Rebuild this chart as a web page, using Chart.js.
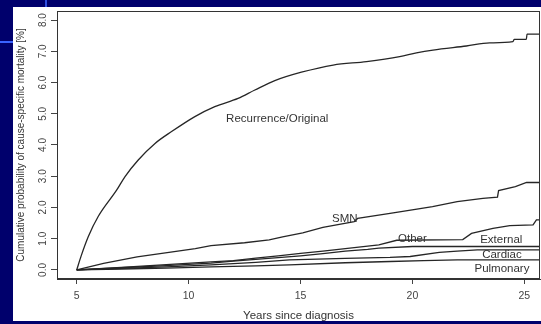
<!DOCTYPE html>
<html>
<head>
<meta charset="utf-8">
<script src="https://cdn.jsdelivr.net/npm/chart.js@4.4.1/dist/chart.umd.min.js"></script>
<style>
  html, body { margin: 0; padding: 0; width: 541px; height: 324px; overflow: hidden; background: #00006c; }
  .panel { position: absolute; left: 13px; top: 7px; width: 528px; height: 314px; background: #fff; }
  .deco-v { position: absolute; left: 45px; top: 0; width: 2px; height: 7px; background: #2f4fe0; }
  .deco-h { position: absolute; left: 0; top: 41px; width: 13px; height: 2px; background: #3a63ff; }
  #chart { position: absolute; left: 13px; top: 7px; }
</style>
</head>
<body>
<div class="panel"></div>
<div class="deco-v"></div>
<div class="deco-h"></div>
<canvas id="chart" width="528" height="317"></canvas>
<script>
const xTicks = [5, 10, 15, 20, 25];
const yTicks = [0, 1, 2, 3, 4, 5, 6, 7, 8];

const recurrenceYears = [5, 5.2, 5.52, 5.96, 6.79, 7.16, 7.75, 8.5, 9.24, 10.28, 11.17, 12.21, 12.96, 13.85, 15.04, 16.46, 17.95, 19.43, 20.18, 20.92, 22.41, 23.45, 24.49, 24.55, 25.09, 25.12, 25.8];
const recurrenceRisk = [0, 0.45, 1.07, 1.71, 2.56, 2.99, 3.52, 4.05, 4.43, 4.91, 5.23, 5.49, 5.76, 6.06, 6.33, 6.56, 6.67, 6.83, 6.95, 7.04, 7.17, 7.27, 7.31, 7.38, 7.38, 7.55, 7.55];

const smnYears = [5, 6.2, 7.7, 9.2, 10.3, 11, 12.5, 13.6, 14.2, 15.1, 16, 17.4, 17.55, 19, 20.2, 20.9, 22, 23.15, 23.8, 23.85, 24.6, 25.1, 25.8];
const smnRisk = [0, 0.21, 0.42, 0.57, 0.68, 0.78, 0.87, 0.96, 1.06, 1.19, 1.36, 1.55, 1.65, 1.81, 1.95, 2.03, 2.19, 2.29, 2.33, 2.54, 2.67, 2.8, 2.8];

const otherYears = [5, 7, 9, 11, 12, 13, 14, 15, 16, 17, 18.5, 19.3, 22.25, 22.64, 23.6, 24.35, 25.39, 25.54, 25.8];
const otherRisk = [0, 0.08, 0.17, 0.26, 0.3, 0.38, 0.45, 0.53, 0.6, 0.68, 0.8, 0.95, 0.97, 1.17, 1.33, 1.42, 1.44, 1.6, 1.6];

const externalYears = [5, 7, 9, 11, 12, 13, 15, 16, 17, 18, 18.5, 20, 25.8];
const externalRisk = [0, 0.07, 0.14, 0.22, 0.28, 0.34, 0.45, 0.52, 0.6, 0.66, 0.7, 0.75, 0.75];

const cardiacYears = [5, 7, 9, 11, 13, 14.5, 17, 19, 19.9, 21.2, 22, 22.9, 25.8];
const cardiacRisk = [0, 0.05, 0.1, 0.16, 0.24, 0.32, 0.37, 0.4, 0.43, 0.56, 0.6, 0.64, 0.64];

const pulmonaryYears = [5, 7, 9, 11, 13, 14.5, 17, 19, 20.5, 22, 25.8];
const pulmonaryRisk = [0, 0.03, 0.06, 0.1, 0.13, 0.16, 0.23, 0.27, 0.3, 0.32, 0.32];

const curveNames = ['Recurrence/Original', 'SMN', 'Other', 'External', 'Cardiac', 'Pulmonary'];
const labelYears = [13.96, 16.98, 20.0, 23.97, 24.0, 24.0];
const labelRisk = [4.85, 1.65, 1.01, 0.96, 0.48, 0.02];

const FONT = '"Liberation Sans", Arial, Helvetica, sans-serif';
const series = [
  [recurrenceYears, recurrenceRisk],
  [smnYears, smnRisk],
  [otherYears, otherRisk],
  [externalYears, externalRisk],
  [cardiacYears, cardiacRisk],
  [pulmonaryYears, pulmonaryRisk]
];

// box round the plot, rotated y tick labels (R style) and the curve names
const annotate = {
  id: 'annotate',
  afterDraw(chart) {
    const { ctx, chartArea: a, scales: { x, y } } = chart;
    ctx.save();
    ctx.strokeStyle = '#333';
    ctx.lineWidth = 1;
    ctx.strokeRect(a.left + 0.5, a.top + 0.5, a.right - a.left - 1, a.bottom - a.top - 1);

    ctx.fillStyle = '#444';
    ctx.font = '10px ' + FONT;
    ctx.textAlign = 'center';
    ctx.textBaseline = 'middle';
    yTicks.forEach(v => {
      ctx.save();
      ctx.translate(y.left + 30, y.getPixelForValue(v));
      ctx.rotate(-Math.PI / 2);
      ctx.fillText(v.toFixed(1), 0, 0);
      ctx.restore();
    });

    ctx.fillStyle = '#333';
    ctx.font = '11.5px ' + FONT;
    curveNames.forEach((t, i) => {
      ctx.fillText(t, x.getPixelForValue(labelYears[i]), y.getPixelForValue(labelRisk[i]));
    });
    ctx.restore();
  }
};

new Chart(document.getElementById('chart'), {
  type: 'line',
  data: {
    datasets: series.map(([xs, ys], i) => ({
      label: curveNames[i],
      data: xs.map((v, j) => ({ x: v, y: ys[j] })),
      borderColor: '#262626',
      borderWidth: 1.3,
      pointRadius: 0,
      cubicInterpolationMode: i === 0 ? 'monotone' : 'default',
      tension: 0,
      fill: false
    }))
  },
  options: {
    responsive: false,
    animation: false,
    layout: { padding: { top: 4, right: 1, left: 0, bottom: 0 } },
    plugins: { legend: { display: false }, tooltip: { enabled: false } },
    scales: {
      x: {
        type: 'linear',
        min: 4.12,
        max: 25.7,
        afterBuildTicks: s => { s.ticks = xTicks.map(v => ({ value: v })); },
        afterFit: s => { s.height = 45; },
        grid: { drawOnChartArea: false, drawTicks: true, tickLength: 5, color: '#444' },
        border: { display: true, color: '#333' },
        ticks: { color: '#444', font: { size: 10.5, family: FONT }, padding: 6, maxRotation: 0, autoSkip: false },
        title: { display: true, text: 'Years since diagnosis', color: '#333', font: { size: 11.5, family: FONT }, padding: { top: 0, bottom: 1 } }
      },
      y: {
        type: 'linear',
        min: -0.29,
        max: 8.29,
        afterBuildTicks: s => { s.ticks = yTicks.map(v => ({ value: v })); },
        afterFit: s => { s.width = 44; },
        grid: { drawOnChartArea: false, drawTicks: true, tickLength: 6, color: '#444' },
        border: { display: true, color: '#333' },
        ticks: { display: false },
        title: { display: true, text: 'Cumulative probability of cause-specific mortality [%]', color: '#333', font: { size: 10, family: FONT }, padding: { top: 2, bottom: 0 } }
      }
    }
  },
  plugins: [annotate]
});
</script>
</body>
</html>
